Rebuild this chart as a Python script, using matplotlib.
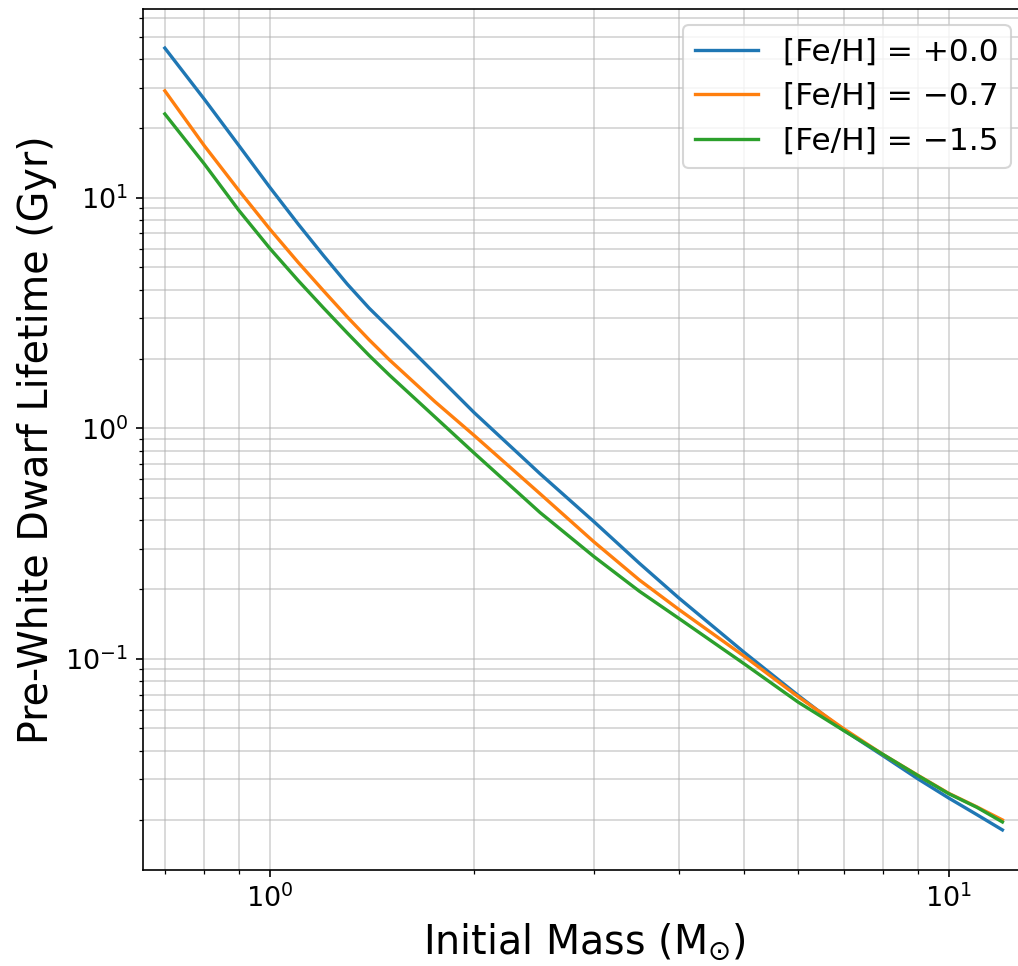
import matplotlib
matplotlib.use("Agg")
import matplotlib.pyplot as plt

# Initial masses (solar masses)
mass = [0.7, 0.8, 0.9, 1.0, 1.1, 1.2, 1.3, 1.4, 1.5, 1.75, 2.0, 2.5, 3.0, 3.5,
        4.0, 5.0, 6.0, 7.0, 8.0, 9.0, 10.0, 11.0, 12.0]

# Pre-white dwarf lifetimes (Gyr)
life_feh_p00 = [44.6, 26.8, 16.84, 11.08, 7.70, 5.60, 4.22, 3.32, 2.72, 1.73, 1.168, 0.635, 0.394, 0.260,
                0.184, 0.1065, 0.0694, 0.0491, 0.0380, 0.0302, 0.0249, 0.0211, 0.0181]
life_feh_m07 = [29.1, 16.84, 10.75, 7.30, 5.25, 3.94, 3.04, 2.42, 1.98, 1.305, 0.93, 0.52, 0.322, 0.22,
                0.164, 0.1025, 0.0685, 0.0498, 0.0385, 0.0313, 0.0261, 0.0228, 0.0200]
life_feh_m15 = [23.1, 14.04, 8.81, 6.02, 4.38, 3.32, 2.59, 2.07, 1.70, 1.12, 0.78, 0.431, 0.278, 0.1966,
                0.150, 0.095, 0.0649, 0.0489, 0.0385, 0.0312, 0.0260, 0.0227, 0.0196]

labels = ["[Fe/H] = +0.0", "[Fe/H] = \u22120.7", "[Fe/H] = \u22121.5"]
series = [life_feh_p00, life_feh_m07, life_feh_m15]
colors = ["#1f77b4", "#ff7f0e", "#2ca02c"]

W, H, DPI = 1018, 966, 150
fig = plt.figure(figsize=(W / DPI, H / DPI), dpi=DPI)
left_px, right_px, top_px, bottom_px = 143, 1026, 9, 870
ax = fig.add_axes([left_px / W, (H - bottom_px) / H,
                   (right_px - left_px) / W, (bottom_px - top_px) / H])

for y, lab, c in zip(series, labels, colors):
    ax.plot(mass, y, color=c, lw=1.6, label=lab)

ax.set_xscale("log")
ax.set_yscale("log")
ax.set_xlim(0.65, 13)
ax.set_ylim(0.01213, 65.9)
ax.grid(True, which="both", color="#b0b0b0", alpha=0.55, lw=0.8)
ax.tick_params(axis="both", which="major", labelsize=13)

ax.set_xlabel(r"Initial Mass (M$_{\odot}$)", fontsize=19)
ax.set_ylabel("Pre-White Dwarf Lifetime (Gyr)", fontsize=19)

ax.legend(loc="upper right", bbox_to_anchor=(1010.7 / W, (H - 25) / H),
          bbox_transform=fig.transFigure, borderaxespad=0, fontsize=15)

fig.savefig("out.png", dpi=DPI)
